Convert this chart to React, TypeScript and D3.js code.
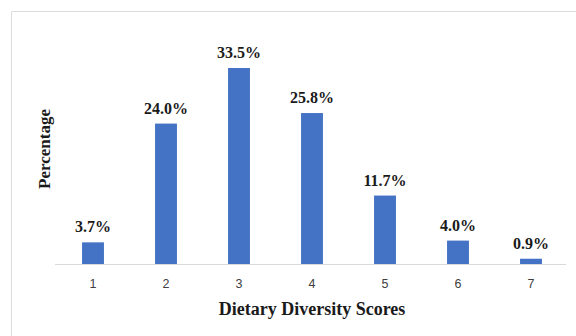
import React from "react";
import * as d3 from "d3";

const categories = ["1", "2", "3", "4", "5", "6", "7"];
const values = [3.7, 24.0, 33.5, 25.8, 11.7, 4.0, 0.9];
const labels = ["3.7%", "24.0%", "33.5%", "25.8%", "11.7%", "4.0%", "0.9%"];

export default function App() {
  const W = 576, H = 336;
  const baseY = 264;
  const x = d3.scaleBand<string>().domain(categories).range([56.5, 567.5]).paddingInner(0.7).paddingOuter(0.35);
  const y = d3.scaleLinear().domain([0, 33.5]).range([baseY, 68]);
  return (
    <svg width={W} height={H} style={{ position: "absolute", left: 0, top: 0, background: "#fff" }}>
      <rect x={0} y={0} width={W} height={H} fill="#fff" />
      <line x1={11.5} y1={11.5} x2={W} y2={11.5} stroke="#dcdcdc" />
      <line x1={11.5} y1={11.5} x2={11.5} y2={H} stroke="#dcdcdc" />
      {categories.map((c, i) => (
        <g key={c}>
          <rect x={x(c)} y={y(values[i])} width={x.bandwidth()} height={baseY - y(values[i])} fill="#4472c4" />
          <text x={(x(c) as number) + x.bandwidth() / 2} y={y(values[i]) - 10} textAnchor="middle"
            fontFamily="Liberation Serif" fontWeight="bold" fontSize={16} fill="#1a1a1a">{labels[i]}</text>
          <text x={(x(c) as number) + x.bandwidth() / 2} y={288} textAnchor="middle"
            fontFamily="Liberation Sans" fontSize={12.5} fill="#404040">{c}</text>
        </g>
      ))}
      <line x1={55} y1={baseY + 0.5} x2={566} y2={baseY + 0.5} stroke="#d9d9d9" />
      <text x={312} y={315} textAnchor="middle" fontFamily="Liberation Serif" fontWeight="bold" fontSize={18} fill="#1a1a1a">Dietary Diversity Scores</text>
      <text transform="translate(50,149) rotate(-90)" textAnchor="middle" fontFamily="Liberation Serif" fontWeight="bold" fontSize={17} fill="#1a1a1a">Percentage</text>
    </svg>
  );
}
